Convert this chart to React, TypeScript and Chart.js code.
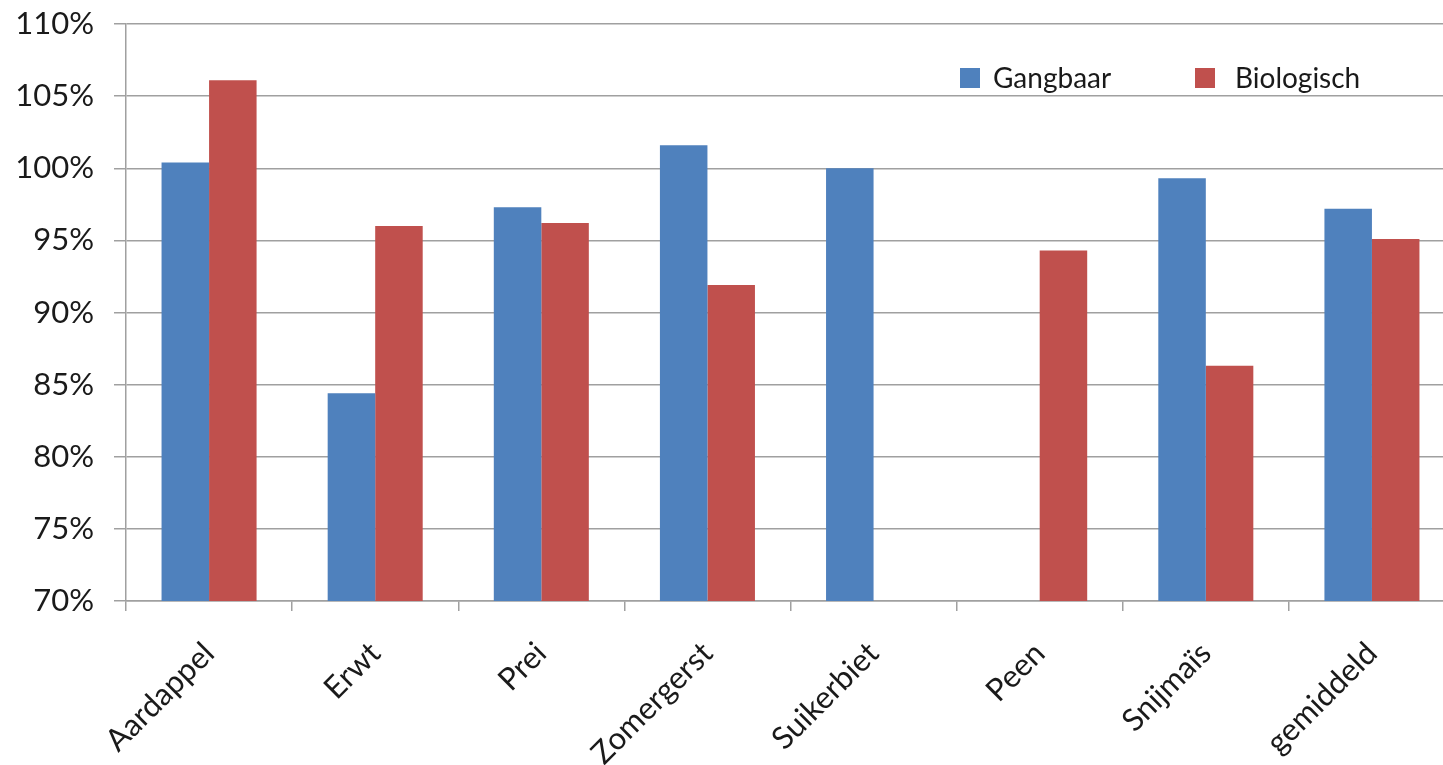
import React, { useEffect, useRef } from "react";
import { Chart, registerables } from "chart.js";

Chart.register(...registerables);

const categories = ["Aardappel", "Erwt", "Prei", "Zomergerst", "Suikerbiet", "Peen", "Snijmaïs", "gemiddeld"];
const gangbaar: (number | null)[] = [100.4, 84.4, 97.3, 101.6, 100.0, null, 99.3, 97.2];
const biologisch: (number | null)[] = [106.1, 96.0, 96.2, 91.9, null, 94.3, 86.3, 95.1];
const seriesNames = ["Gangbaar", "Biologisch"];
const seriesColors = ["#4F81BD", "#C0504D"];
const yMin = 70;
const yMax = 110;
const yStep = 5;

const FONT = "Lato, 'Open Sans', sans-serif";
const GRID = "#a0a0a0";

const insideLegend = {
  id: "insideLegend",
  afterDraw(chart: any) {
    const { ctx, chartArea } = chart;
    const items = chart.data.datasets.map((d: any) => ({ label: d.label, color: d.backgroundColor }));
    const boxX = [chartArea.left + 834, chartArea.left + 1069];
    const boxY = chartArea.top + 44;
    const size = 20;
    ctx.save();
    ctx.font = `28px ${FONT}`;
    ctx.textBaseline = "middle";
    ctx.textAlign = "left";
    items.forEach((it: any, i: number) => {
      ctx.fillStyle = it.color;
      ctx.fillRect(boxX[i], boxY, size, size);
      ctx.fillStyle = "#1a1a1a";
      ctx.fillText(it.label, boxX[i] + (i === 0 ? 33 : 40), boxY + size / 2 + 1);
    });
    ctx.restore();
  },
};

export default function App() {
  const ref = useRef<HTMLCanvasElement | null>(null);
  useEffect(() => {
    if (!ref.current) return;
    const chart = new Chart(ref.current, {
      type: "bar",
      data: {
        labels: categories,
        datasets: [
          { label: seriesNames[0], data: gangbaar, backgroundColor: seriesColors[0] },
          { label: seriesNames[1], data: biologisch, backgroundColor: seriesColors[1] },
        ],
      },
      options: {
        animation: false,
        responsive: true,
        maintainAspectRatio: false,
        layout: { padding: { top: 24, right: 15, left: 0, bottom: 0 } },
        datasets: { bar: { categoryPercentage: 0.572, barPercentage: 1 } },
        plugins: { legend: { display: false }, tooltip: { enabled: false } },
        scales: {
          x: {
            grid: { offset: true, drawOnChartArea: false, color: GRID, lineWidth: 1.5, tickLength: 10 },
            border: { color: GRID, width: 1.5 },
            ticks: {
              minRotation: 45,
              maxRotation: 45,
              padding: 24,
              color: "#1a1a1a",
              font: { family: FONT, size: 31 },
            },
            afterFit: (s: any) => {
              s.height = 164;
            },
          },
          y: {
            min: yMin,
            max: yMax,
            ticks: {
              stepSize: yStep,
              padding: 20,
              color: "#1a1a1a",
              font: { family: FONT, size: 31 },
              callback: (v: any) => `${v}%`,
            },
            grid: { color: GRID, lineWidth: 1.5, tickLength: 12 },
            border: { color: GRID, width: 1.5 },
            afterFit: (s: any) => {
              s.width = 126;
              s.paddingTop = 0;
              s.paddingBottom = 0;
            },
          },
        },
      },
      plugins: [insideLegend],
    });
    return () => chart.destroy();
  }, []);
  return (
    <div style={{ position: "fixed", left: 0, top: 0, width: 1443, height: 765, overflow: "hidden", background: "#fff" }}>
      <div style={{ position: "relative", width: 1470, height: 765 }}>
        <canvas ref={ref} />
      </div>
    </div>
  );
}
